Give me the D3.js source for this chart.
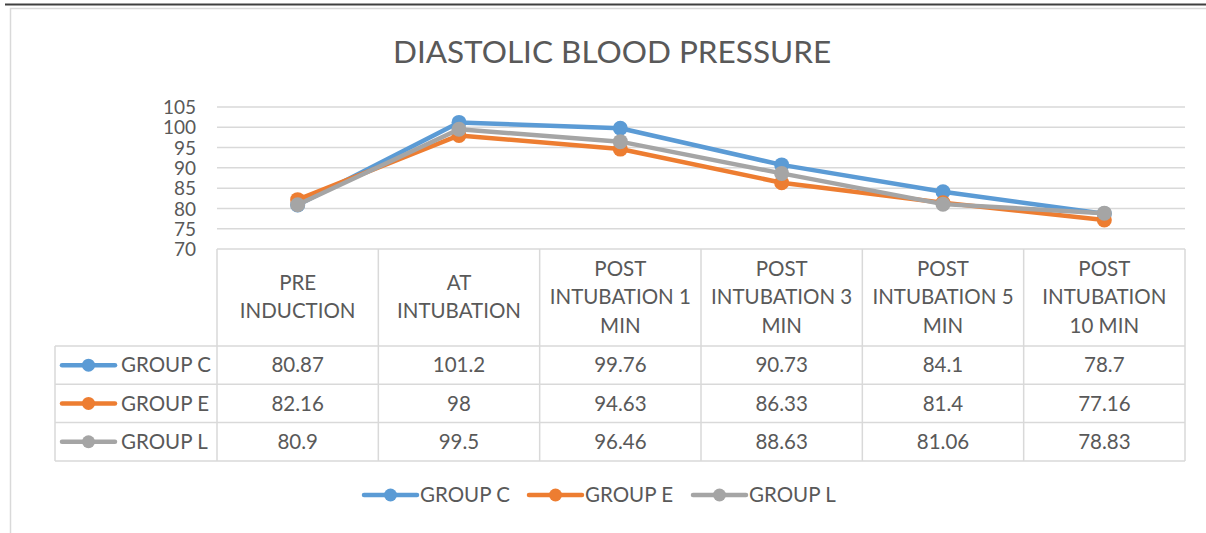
<!DOCTYPE html>
<html lang="en">
<head>
<meta charset="utf-8">
<title>Diastolic blood pressure</title>
<script src="https://cdn.jsdelivr.net/npm/d3@7"></script>
<style>
  body { margin: 0; background: #fff; }
  text { font-family: Lato, "Open Sans", sans-serif; fill: #595959; }
</style>
</head>
<body>
<script>
// data
var categories = ["PRE INDUCTION", "AT INTUBATION", "POST INTUBATION 1 MIN",
                  "POST INTUBATION 3 MIN", "POST INTUBATION 5 MIN", "POST INTUBATION 10 MIN"];
var headerLines = [["PRE", "INDUCTION"], ["AT", "INTUBATION"], ["POST", "INTUBATION 1", "MIN"],
                   ["POST", "INTUBATION 3", "MIN"], ["POST", "INTUBATION 5", "MIN"], ["POST", "INTUBATION", "10 MIN"]];
var groupC = [80.87, 101.2, 99.76, 90.73, 84.1, 78.7];
var groupE = [82.16, 98, 94.63, 86.33, 81.4, 77.16];
var groupL = [80.9, 99.5, 96.46, 88.63, 81.06, 78.83];
var seriesNames = ["GROUP C", "GROUP E", "GROUP L"];
var yTicks = [70, 75, 80, 85, 90, 95, 100, 105];

var series = [
  {name: seriesNames[0], values: groupC, color: "#5B9BD5"},
  {name: seriesNames[1], values: groupE, color: "#ED7D31"},
  {name: seriesNames[2], values: groupL, color: "#A5A5A5"}
];

var W = 1206, H = 533;
var fs = 20.5;
var svg = d3.select("body").append("svg").attr("width", W).attr("height", H);

// top rule and chart frame
svg.append("line").attr("x1", 5).attr("x2", W).attr("y1", 4.5).attr("y2", 4.5)
  .attr("stroke", "#404040").attr("stroke-width", 2);
svg.append("rect").attr("x", 10.5).attr("y", 8.5).attr("width", W + 10).attr("height", H)
  .attr("fill", "none").attr("stroke", "#d9d9d9").attr("stroke-width", 1.5);

svg.append("text").attr("x", 612).attr("y", 63).attr("text-anchor", "middle")
  .attr("font-size", 31.5).text("DIASTOLIC BLOOD PRESSURE");

var x = d3.scaleBand().domain(categories).range([217, 1185]);
var y = d3.scaleLinear().domain([70, 105]).range([249, 107]);
var cx = function(c) { return x(c) + x.bandwidth() / 2; };

// gridlines
svg.append("g").selectAll("line").data(yTicks.slice(1)).join("line")
  .attr("x1", 217).attr("x2", 1185)
  .attr("y1", function(d) { return y(d); }).attr("y2", function(d) { return y(d); })
  .attr("stroke", "#d9d9d9").attr("stroke-width", 1.5);

var yAxis = svg.append("g").attr("transform", "translate(196,0)")
  .call(d3.axisLeft(y).tickValues(yTicks).tickSize(0).tickPadding(0));
yAxis.select(".domain").remove();
yAxis.selectAll("text").attr("font-size", 19).attr("font-family", "Lato, sans-serif")
  .attr("fill", "#595959").attr("dy", "0.35em");

// data table
var rowTop = 346, rowH = 38.3, tableLeft = 55;
var grid = svg.append("g").attr("stroke", "#d9d9d9").attr("stroke-width", 1.5);
x.domain().forEach(function(c) {
  grid.append("line").attr("x1", x(c)).attr("x2", x(c)).attr("y1", 249).attr("y2", rowTop + 3 * rowH);
});
grid.append("line").attr("x1", 1185).attr("x2", 1185).attr("y1", 249).attr("y2", rowTop + 3 * rowH);
grid.append("line").attr("x1", tableLeft).attr("x2", tableLeft).attr("y1", rowTop).attr("y2", rowTop + 3 * rowH);
grid.append("line").attr("x1", 217).attr("x2", 1185).attr("y1", 249).attr("y2", 249);
for (var r = 0; r <= 3; r++) {
  grid.append("line").attr("x1", tableLeft).attr("x2", 1185)
    .attr("y1", rowTop + r * rowH).attr("y2", rowTop + r * rowH);
}

// header cells
categories.forEach(function(c, i) {
  var lines = headerLines[i];
  var mid = 297, lh = 28.5;
  var start = mid - (lines.length - 1) * lh / 2;
  lines.forEach(function(t, k) {
    svg.append("text").attr("x", cx(c)).attr("y", start + k * lh).attr("dy", "0.35em")
      .attr("text-anchor", "middle").attr("font-size", fs).text(t);
  });
});

function legendKey(g, color, x0, yy) {
  g.append("line").attr("x1", x0).attr("x2", x0 + 53).attr("y1", yy).attr("y2", yy)
    .attr("stroke", color).attr("stroke-width", 4.5).attr("stroke-linecap", "round");
  g.append("circle").attr("cx", x0 + 26.5).attr("cy", yy).attr("r", 6.5).attr("fill", color);
}

series.forEach(function(s, si) {
  var yy = rowTop + si * rowH + rowH / 2;
  legendKey(svg, s.color, 62, yy);
  svg.append("text").attr("x", 121).attr("y", yy).attr("dy", "0.35em").attr("font-size", fs).text(s.name);
  s.values.forEach(function(v, i) {
    svg.append("text").attr("x", cx(categories[i])).attr("y", yy).attr("dy", "0.35em")
      .attr("text-anchor", "middle").attr("font-size", fs).text(v);
  });
});

// lines and markers
var line = d3.line().x(function(d, i) { return cx(categories[i]); }).y(function(d) { return y(d); });
series.forEach(function(s) {
  var g = svg.append("g");
  g.append("path").datum(s.values).attr("d", line).attr("fill", "none")
    .attr("stroke", s.color).attr("stroke-width", 4.5).attr("stroke-linejoin", "round");
  g.selectAll("circle").data(s.values).join("circle")
    .attr("cx", function(d, i) { return cx(categories[i]); })
    .attr("cy", function(d) { return y(d); })
    .attr("r", 7.5).attr("fill", s.color);
});

// bottom legend
var legX = [364, 529, 693];
series.forEach(function(s, i) {
  legendKey(svg, s.color, legX[i], 495);
  svg.append("text").attr("x", legX[i] + 56).attr("y", 495).attr("dy", "0.35em")
    .attr("font-size", fs).text(s.name);
});
</script>
</body>
</html>
